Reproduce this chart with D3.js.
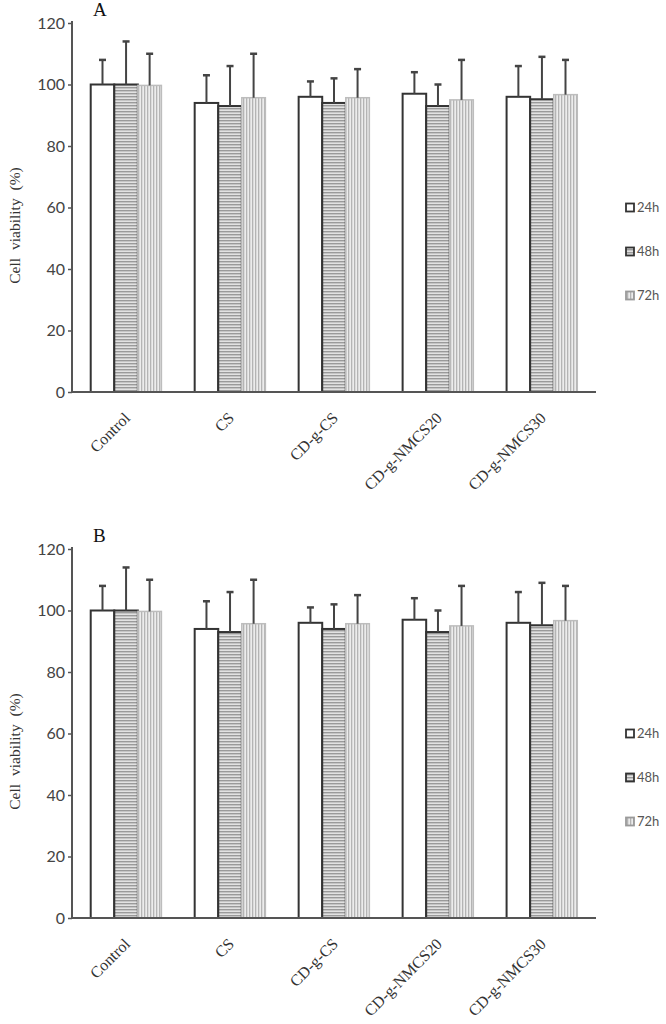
<!DOCTYPE html>
<html>
<head>
<meta charset="utf-8">
<script src="https://cdn.jsdelivr.net/npm/d3@7/dist/d3.min.js"></script>
<style>
  html, body { margin: 0; padding: 0; background: #fff; }
  svg { display: block; }
</style>
</head>
<body>
<svg id="chart" width="666" height="1024"></svg>
<script>
// ---- data ----
const categories = ["Control", "CS", "CD-g-CS", "CD-g-NMCS20", "CD-g-NMCS30"];
const series = ["24h", "48h", "72h"];
const panelLetters = ["A", "B"];
const yTicks = [0, 20, 40, 60, 80, 100, 120];

// Panel A means / error (upper) values
const meanA24 = [100, 94, 96, 97, 96];
const meanA48 = [100, 93, 94, 93, 95.2];
const meanA72 = [99.7, 95.7, 95.7, 95, 96.7];
const errA24 = [8, 9, 5, 7, 10];
const errA48 = [14, 13, 8, 7, 13.8];
const errA72 = [10.3, 14.3, 9.3, 13, 11.3];

// Panel B means / error (upper) values
const meanB24 = [100, 94, 96, 97, 96];
const meanB48 = [100, 93, 94, 93, 95.2];
const meanB72 = [99.7, 95.7, 95.7, 95, 96.7];
const errB24 = [8, 9, 5, 7, 10];
const errB48 = [14, 13, 8, 7, 13.8];
const errB72 = [10.3, 14.3, 9.3, 13, 11.3];

const panels = [
  { letter: panelLetters[0], means: [meanA24, meanA48, meanA72], errs: [errA24, errA48, errA72], top: 23, bottom: 392 },
  { letter: panelLetters[1], means: [meanB24, meanB48, meanB72], errs: [errB24, errB48, errB72], top: 549, bottom: 918 }
];

const svg = d3.select("#chart");
const defs = svg.append("defs");

// horizontal stripe pattern (48h)
const pH = defs.append("pattern").attr("id", "hstripe").attr("patternUnits", "userSpaceOnUse")
  .attr("width", 4).attr("height", 3);
pH.append("rect").attr("width", 4).attr("height", 3).attr("fill", "#e2e2e2");
pH.append("rect").attr("y", 0).attr("width", 4).attr("height", 1.4).attr("fill", "#9a9a9a");

// vertical stripe pattern (72h)
const pV = defs.append("pattern").attr("id", "vstripe").attr("patternUnits", "userSpaceOnUse")
  .attr("width", 3).attr("height", 4);
pV.append("rect").attr("width", 3).attr("height", 4).attr("fill", "#ececec");
pV.append("rect").attr("x", 0).attr("width", 1.3).attr("height", 4).attr("fill", "#b4b4b4");

const fills = ["#ffffff", "url(#hstripe)", "url(#vstripe)"];
const strokes = ["#333333", "#333333", "#bdbdbd"];
const strokeW = [2, 2, 1.5];

const axisLeft = 72, axisRight = 596;

const x0 = d3.scaleBand().domain(categories).range([axisLeft, axisRight])
  .paddingInner(0.32).paddingOuter(0.18);
const x1 = d3.scaleBand().domain(series).range([0, x0.bandwidth()]).padding(0);

panels.forEach(p => {
  const g = svg.append("g");
  const y = d3.scaleLinear().domain([0, 120]).range([p.bottom, p.top]);

  // bars
  series.forEach((s, si) => {
    g.append("g").selectAll("rect").data(categories).join("rect")
      .attr("x", c => x0(c) + x1(s))
      .attr("y", (c, i) => y(p.means[si][i]))
      .attr("width", x1.bandwidth())
      .attr("height", (c, i) => y(0) - y(p.means[si][i]))
      .attr("fill", fills[si])
      .attr("stroke", strokes[si])
      .attr("stroke-width", strokeW[si]);
  });

  // error bars (upper only)
  series.forEach((s, si) => {
    const eg = g.append("g");
    categories.forEach((c, i) => {
      const cx = x0(c) + x1(s) + x1.bandwidth() / 2;
      const yTop = y(p.means[si][i] + p.errs[si][i]);
      const yBase = y(p.means[si][i]);
      eg.append("line").attr("x1", cx).attr("x2", cx).attr("y1", yBase).attr("y2", yTop)
        .attr("stroke", "#444").attr("stroke-width", 2);
      eg.append("line").attr("x1", cx - 3.5).attr("x2", cx + 3.5).attr("y1", yTop).attr("y2", yTop)
        .attr("stroke", "#444").attr("stroke-width", 2.5);
    });
  });

  // y axis
  const yAxis = d3.axisLeft(y).tickValues(yTicks).tickSize(4).tickPadding(3).tickFormat(d3.format("d"));
  const ya = g.append("g").attr("transform", `translate(${axisLeft},0)`).call(yAxis);
  ya.select(".domain").attr("stroke", "#555").attr("stroke-width", 2).attr("d", `M0,${p.top - 2}V${p.bottom}`);
  ya.selectAll(".tick line").attr("stroke", "#555").attr("stroke-width", 1.5);
  ya.selectAll(".tick text").attr("font-family", "Lato, 'Open Sans', sans-serif")
    .attr("font-size", 16).attr("fill", "#444");

  // x axis
  const xAxis = d3.axisBottom(x0).tickSize(0).tickPadding(0);
  const xa = g.append("g").attr("transform", `translate(0,${p.bottom})`).call(xAxis);
  xa.select(".domain").attr("stroke", "#555").attr("stroke-width", 2).attr("d", `M${axisLeft},0H${axisRight}`);
  xa.selectAll(".tick text")
    .attr("font-family", "'Liberation Serif', 'Times New Roman', serif")
    .attr("font-size", 16).attr("fill", "#333")
    .attr("text-anchor", "end")
    .attr("dy", null)
    .attr("transform", "translate(5,27) rotate(-45)");

  // y label
  g.append("text")
    .attr("transform", `translate(20,${(p.top + p.bottom) / 2 + 18}) rotate(-90)`)
    .attr("text-anchor", "middle")
    .attr("font-family", "'Liberation Serif', 'Times New Roman', serif")
    .attr("font-size", 15.5).attr("word-spacing", 4).attr("fill", "#333")
    .text("Cell viability (%)");

  // panel letter
  g.append("text").attr("x", 93).attr("y", p.top - 7)
    .attr("font-family", "'Liberation Serif', 'Times New Roman', serif")
    .attr("font-size", 19).attr("fill", "#111").text(p.letter);

  // legend
  const lg = g.append("g");
  series.forEach((s, si) => {
    const ly = y(60) + si * 44;
    lg.append("rect").attr("x", 626).attr("y", ly - 4).attr("width", 8).attr("height", 8)
      .attr("fill", fills[si]).attr("stroke", si === 2 ? "#9a9a9a" : "#333").attr("stroke-width", 1.8);
    lg.append("text").attr("x", 637).attr("y", ly).attr("dy", "0.35em")
      .attr("font-family", "Lato, 'Open Sans', sans-serif")
      .attr("font-size", 13).attr("fill", "#555").text(s);
  });
});
</script>
</body>
</html>
